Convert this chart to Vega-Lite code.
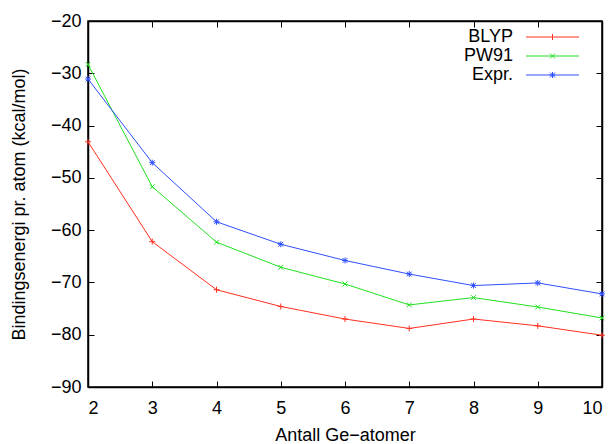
{
  "$schema": "https://vega.github.io/schema/vega-lite/v6.json",
  "width": 514,
  "height": 366,
  "autosize": {"type": "none"},
  "padding": {"left": 88, "top": 21, "right": 13, "bottom": 57},
  "background": "white",
  "config": {
    "view": {"stroke": "black", "strokeWidth": 1.5},
    "font": "Liberation Sans",
    "axis": {
      "labelFont": "Liberation Sans",
      "labelFontSize": 18,
      "labelColor": "black",
      "titleFont": "Liberation Sans",
      "titleFontSize": 18,
      "titleFontWeight": "normal",
      "titleColor": "black",
      "domainColor": "black",
      "domainWidth": 1.5,
      "tickColor": "black",
      "tickWidth": 1,
      "tickSize": -6,
      "grid": false
    },
    "legend": {
      "labelFont": "Liberation Sans",
      "labelFontSize": 18,
      "labelColor": "black"
    }
  },
  "data": {
    "values": [
      {"n": 2, "series": "BLYP", "E": -43.1},
      {"n": 3, "series": "BLYP", "E": -62.2},
      {"n": 4, "series": "BLYP", "E": -71.4},
      {"n": 5, "series": "BLYP", "E": -74.6},
      {"n": 6, "series": "BLYP", "E": -77.0},
      {"n": 7, "series": "BLYP", "E": -78.8},
      {"n": 8, "series": "BLYP", "E": -77.0},
      {"n": 9, "series": "BLYP", "E": -78.3},
      {"n": 10, "series": "BLYP", "E": -80.1},
      {"n": 2, "series": "PW91", "E": -28.3},
      {"n": 3, "series": "PW91", "E": -51.7},
      {"n": 4, "series": "PW91", "E": -62.3},
      {"n": 5, "series": "PW91", "E": -67.1},
      {"n": 6, "series": "PW91", "E": -70.3},
      {"n": 7, "series": "PW91", "E": -74.3},
      {"n": 8, "series": "PW91", "E": -72.9},
      {"n": 9, "series": "PW91", "E": -74.7},
      {"n": 10, "series": "PW91", "E": -76.8},
      {"n": 2, "series": "Expr.", "E": -31.1},
      {"n": 3, "series": "Expr.", "E": -47.1},
      {"n": 4, "series": "Expr.", "E": -58.4},
      {"n": 5, "series": "Expr.", "E": -62.7},
      {"n": 6, "series": "Expr.", "E": -65.8},
      {"n": 7, "series": "Expr.", "E": -68.4},
      {"n": 8, "series": "Expr.", "E": -70.6},
      {"n": 9, "series": "Expr.", "E": -70.1},
      {"n": 10, "series": "Expr.", "E": -72.2}
    ]
  },
  "layer": [
    {
      "mark": {"type": "line", "strokeWidth": 1},
      "encoding": {
        "x": {
          "field": "n", "type": "quantitative",
          "scale": {"domain": [2, 10], "nice": false, "zero": false},
          "axis": {"orient": "bottom", "values": [2, 3, 4, 5, 6, 7, 8, 9, 10], "format": "d", "title": "Antall Ge−atomer", "labelPadding": 18, "titlePadding": 9}
        },
        "y": {
          "field": "E", "type": "quantitative",
          "scale": {"domain": [-90, -20], "nice": false, "zero": false},
          "axis": {"orient": "left", "values": [-90, -80, -70, -60, -50, -40, -30, -20], "format": "d", "title": "Bindingsenergi pr. atom (kcal/mol)", "labelPadding": 13, "titlePadding": 22}
        },
        "color": {
          "field": "series", "type": "nominal",
          "scale": {"domain": ["BLYP", "PW91", "Expr."], "range": ["#ff3020", "#20e020", "#3050ff"]},
          "legend": {
            "title": null,
            "orient": "none",
            "legendX": 434,
            "legendY": 7,
            "padding": 0,
            "rowPadding": 1,
            "labelAlign": "right",
            "labelOffset": -27,
            "symbolSize": 100,
            "symbolStrokeWidth": 1,
            "encode": {
              "symbols": {
                "update": {
                  "size": {"value": 100},
                  "strokeWidth": {"value": 1},
                  "opacity": {"value": 1},
                  "fill": {"value": "transparent"},
                  "shape": {"signal": "datum.value === 'BLYP' ? 'M-1,0H9.6M4.3,-0.6V0.6' : datum.value === 'PW91' ? 'M-1,0H9.6M3.8,-0.5L4.8,0.5M3.8,0.5L4.8,-0.5' : 'M-1,0H9.6M3.7,0H4.9M4.3,-0.6V0.6M3.8,-0.5L4.8,0.5M3.8,0.5L4.8,-0.5'"}
                }
              }
            }
          }
        }
      }
    },
    {
      "transform": [{"filter": "datum.series === 'BLYP'"}],
      "mark": {"type": "point", "filled": false, "size": 36, "strokeWidth": 1, "opacity": 1, "shape": "M-1,0H1M0,-1V1"},
      "encoding": {
        "x": {
          "field": "n", "type": "quantitative",
          "scale": {"domain": [2, 10], "nice": false, "zero": false},
          "axis": {"orient": "top", "values": [2, 3, 4, 5, 6, 7, 8, 9, 10], "labels": false, "title": null}
        },
        "y": {
          "field": "E", "type": "quantitative",
          "scale": {"domain": [-90, -20], "nice": false, "zero": false},
          "axis": {"orient": "right", "values": [-90, -80, -70, -60, -50, -40, -30, -20], "labels": false, "title": null}
        },
        "color": {
          "field": "series", "type": "nominal",
          "scale": {"domain": ["BLYP", "PW91", "Expr."], "range": ["#ff3020", "#20e020", "#3050ff"]},
          "legend": {
            "title": null,
            "orient": "none",
            "legendX": 434,
            "legendY": 7,
            "padding": 0,
            "rowPadding": 1,
            "labelAlign": "right",
            "labelOffset": -27,
            "symbolSize": 100,
            "symbolStrokeWidth": 1,
            "encode": {
              "symbols": {
                "update": {
                  "size": {"value": 100},
                  "strokeWidth": {"value": 1},
                  "opacity": {"value": 1},
                  "fill": {"value": "transparent"},
                  "shape": {"signal": "datum.value === 'BLYP' ? 'M-1,0H9.6M4.3,-0.6V0.6' : datum.value === 'PW91' ? 'M-1,0H9.6M3.8,-0.5L4.8,0.5M3.8,0.5L4.8,-0.5' : 'M-1,0H9.6M3.7,0H4.9M4.3,-0.6V0.6M3.8,-0.5L4.8,0.5M3.8,0.5L4.8,-0.5'"}
                }
              }
            }
          }
        }
      }
    },
    {
      "transform": [{"filter": "datum.series === 'PW91'"}],
      "mark": {"type": "point", "filled": false, "size": 36, "strokeWidth": 1, "opacity": 1, "shape": "M-0.8,-0.8L0.8,0.8M-0.8,0.8L0.8,-0.8"},
      "encoding": {
        "x": {"field": "n", "type": "quantitative", "scale": {"domain": [2, 10], "nice": false, "zero": false}, "axis": null},
        "y": {"field": "E", "type": "quantitative", "scale": {"domain": [-90, -20], "nice": false, "zero": false}, "axis": null},
        "color": {
          "field": "series", "type": "nominal",
          "scale": {"domain": ["BLYP", "PW91", "Expr."], "range": ["#ff3020", "#20e020", "#3050ff"]}
        }
      }
    },
    {
      "transform": [{"filter": "datum.series === 'Expr.'"}],
      "mark": {"type": "point", "filled": false, "size": 36, "strokeWidth": 1, "opacity": 1, "shape": "M-1,0H1M0,-1V1M-0.8,-0.8L0.8,0.8M-0.8,0.8L0.8,-0.8"},
      "encoding": {
        "x": {"field": "n", "type": "quantitative", "scale": {"domain": [2, 10], "nice": false, "zero": false}, "axis": null},
        "y": {"field": "E", "type": "quantitative", "scale": {"domain": [-90, -20], "nice": false, "zero": false}, "axis": null},
        "color": {
          "field": "series", "type": "nominal",
          "scale": {"domain": ["BLYP", "PW91", "Expr."], "range": ["#ff3020", "#20e020", "#3050ff"]}
        }
      }
    }
  ],
  "resolve": {"axis": {"x": "independent", "y": "independent"}}
}
